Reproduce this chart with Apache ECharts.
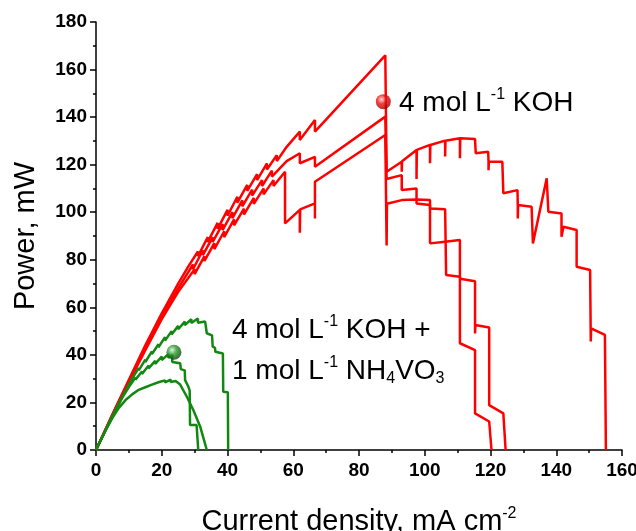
<!DOCTYPE html>
<html>
<head>
<meta charset="utf-8">
<script src="https://cdn.jsdelivr.net/npm/echarts@6/dist/echarts.min.js"></script>
<style>
  html, body { margin: 0; padding: 0; background: #fff; }
  #main { width: 636px; height: 531px; }
</style>
</head>
<body>
<div id="main"></div>
<script>
// 4 mol L-1 KOH runs (three measurements)
var redA = [[0,0],[5,15],[10,29.5],[15,44],[20,57.5],[25,70],[28,77],[31,83.5],[31,81.5],[34,89.5],[34,87.5],[37,95.5],[37,93],[40,101],[40,98.5],[43,106.5],[43,104],[46,111.5],[46,109],[49,116],[49,113.5],[52,120.5],[52,118],[55,124],[55,121.5],[58,127.5],[62,133.9],[62,130.4],[66.6,138.8],[66.6,133.9],[88,166],[88.4,117],[93,121.2],[93,117],[93.1,121.4],[97.5,126.2],[97.5,114],[97.6,126.2],[101.6,128.3],[101.6,120.6],[101.7,128.3],[106.2,130.1],[106.2,123.4],[106.3,130.1],[110.7,131.1],[110.7,122.7],[110.8,131.1],[115.3,130.8],[115.5,124.8],[119.3,125.4],[119.4,121.2],[119.4,117.7],[119.5,121.2],[123.6,121.2],[123.9,108],[128.2,109.3],[128.3,103],[128.3,97.4],[128.4,103],[132.5,102.3],[132.9,86.9],[137.1,114.3],[137.6,100.2],[141.6,99.5],[141.6,89.7],[142.2,93.9],[146.2,92.5],[146.2,77.1],[150.3,75.7],[150.5,45.6],[150.6,51.2],[154.8,48.4],[155.1,0]];
var redB = [[0,0],[5,14.8],[10,29],[15,43],[20,56],[25,68],[29.5,78],[29.5,76],[32.5,84],[32.5,82],[35.5,89.5],[35.5,87.5],[38.5,95],[38.5,92.5],[41.5,100],[41.5,97.5],[44.5,105],[44.5,102.5],[47.5,109.5],[47.5,107],[50.5,113.5],[50.5,111],[53.5,117.5],[53.5,115],[58,121.5],[62,124.8],[62,120.6],[66.6,123.3],[66.6,119.1],[88,140.2],[88.4,114],[93,115.6],[93,109.3],[97.5,110],[97.5,103.7],[101.6,103],[101.6,101.6],[106.2,101.2],[106.5,73.6],[110.7,72.9],[110.8,72],[115.3,71],[115.3,49],[115.4,52.6],[119.6,51.5],[119.6,18.9],[123.9,15.4],[124.6,0]];
var redC = [[0,0],[5,14.6],[10,28.5],[15,42],[20,55],[25,66.5],[30,76],[30,74],[33,81.5],[33,79.5],[36,87],[36,84.5],[39,92],[39,89.5],[42,97],[42,94.5],[45,101.5],[45,99],[48,106],[48,103.5],[51,110],[51,107.5],[54,113.5],[54,111],[57.5,117],[57.5,95.3],[62,101],[62,91.4],[62.1,101.2],[66.6,103.7],[66.6,97.4],[66.6,112.8],[88,132.5],[88.4,86],[88.5,103.6],[93,105.1],[97.5,105.3],[101.6,105.1],[101.6,86.9],[106.2,87.6],[110.7,88.3],[110.7,44.9],[115.3,42],[115.3,15.4],[119.6,12],[120.3,0]];

// 4 mol L-1 KOH + 1 mol L-1 NH4VO3 runs
var greenA = [[0,0],[4,11.5],[8,22.5],[11,30],[13,34.5],[13,33.5],[15,38],[15,37],[17,41.5],[17,40.3],[19,44.5],[19,43.2],[21,47.5],[21,46],[23,50],[23,48.6],[25,52.2],[25,50.8],[27,54],[27,52.5],[29,55],[29,53.4],[31,55.3],[31,53.5],[33.2,54],[33.7,49.1],[35.3,48.2],[35.5,43.5],[36.2,43],[36.3,41.3],[38.6,40.6],[38.7,24.5],[40.1,24.3],[40.2,0]];
var greenB = [[0,0],[4,11.4],[8,22],[10,26.5],[12,30.5],[12,29.6],[14,33],[14,32],[16,35.5],[16,34.3],[18,37.5],[18,36.2],[20,39.3],[20,37.8],[22,40.3],[22,38.8],[23.2,40],[23.2,37],[25.6,36.5],[25.8,34],[27,33.5],[27.1,29.4],[28.1,26.6],[28.5,25],[28.6,10.5],[30.6,10.5],[31.1,0]];
var greenC = [[0,0],[3,8.5],[5,13.5],[7,17.8],[9,21],[11,23.4],[13,25.3],[13,24.6],[15,26.4],[15,25.7],[17,27.5],[17,26.7],[19,28.5],[19,27.7],[21,29.3],[21,28.4],[22.7,29.6],[22.7,28.6],[24.2,29],[25.6,27.5],[27.6,22.5],[29.6,16.8],[31.7,9.8],[33.2,2.5],[33.7,0]];

// legend balls
var redBall = [[87.4,146.5]];
var greenBall = [[23.7,41.1]];

var RED = '#ff0000';
var GREEN = '#128812';

var chart = echarts.init(document.getElementById('main'));

function lineSeries(data, color) {
  return {
    type: 'line',
    data: data,
    symbol: 'none',
    lineStyle: { color: color, width: 2.5 },
    silent: true
  };
}

function ball(data, light, mid, dark) {
  return {
    type: 'scatter',
    data: data,
    symbolSize: 15,
    z: 5,
    itemStyle: {
      color: new echarts.graphic.RadialGradient(0.38, 0.35, 0.65, [
        { offset: 0, color: light },
        { offset: 0.45, color: mid },
        { offset: 1, color: dark }
      ])
    }
  };
}

function rich(color) {
  return {
    a: { fontFamily: 'Liberation Sans', fontSize: 28, lineHeight: 32, color: color },
    sup: { fontFamily: 'Liberation Sans', fontSize: 16, lineHeight: 16, verticalAlign: 'top', color: color },
    sub: { fontFamily: 'Liberation Sans', fontSize: 16, lineHeight: 16, verticalAlign: 'bottom', color: color }
  };
}

var option = {
  animation: false,
  grid: { left: 96, right: 14, top: 22, bottom: 81, containLabel: false, outerBoundsMode: 'none' },
  xAxis: {
    type: 'value',
    min: 0, max: 160, interval: 20,
    name: '{a|Current density, mA cm}{sup|-2}',
    nameLocation: 'middle',
    nameGap: 56,
    nameTextStyle: {
      rich: {
        a: { fontFamily: 'Liberation Sans', fontSize: 29, lineHeight: 32, color: '#000' },
        sup: { fontFamily: 'Liberation Sans', fontSize: 16, lineHeight: 16, verticalAlign: 'top', color: '#000' }
      }
    },
    axisLine: { lineStyle: { color: '#000', width: 1.5 } },
    axisTick: { length: 6, lineStyle: { color: '#000', width: 1.5 } },
    minorTick: { show: true, splitNumber: 2, length: 3, lineStyle: { color: '#000', width: 1.5 } },
    axisLabel: { color: '#000', fontFamily: 'Liberation Sans', fontWeight: 'bold', fontSize: 19, margin: 11 },
    splitLine: { show: false }
  },
  yAxis: {
    type: 'value',
    min: 0, max: 180, interval: 20,
    name: 'Power, mW',
    nameLocation: 'middle',
    nameGap: 56,
    nameTextStyle: { fontFamily: 'Liberation Sans', fontSize: 29, color: '#000' },
    axisLine: { show: true, lineStyle: { color: '#000', width: 1.5 } },
    axisTick: { show: true, length: 6, lineStyle: { color: '#000', width: 1.5 } },
    minorTick: { show: true, splitNumber: 2, length: 3, lineStyle: { color: '#000', width: 1.5 } },
    axisLabel: { color: '#000', fontFamily: 'Liberation Sans', fontWeight: 'bold', fontSize: 19, margin: 9 },
    splitLine: { show: false }
  },
  series: [
    lineSeries(redA, RED),
    lineSeries(redB, RED),
    lineSeries(redC, RED),
    lineSeries(greenA, GREEN),
    lineSeries(greenB, GREEN),
    lineSeries(greenC, GREEN),
    ball(redBall, '#ffd0d0', '#ee1010', '#a00000'),
    ball(greenBall, '#d8f0d8', '#2a9a2a', '#0a4a0a')
  ],
  graphic: [
    {
      type: 'text', left: 399, top: 87,
      style: { text: '{a|4 mol L}{sup|-1}{a| KOH}', rich: rich(RED) }
    },
    {
      type: 'text', left: 232, top: 314,
      style: { text: '{a|4 mol L}{sup|-1}{a| KOH +}', rich: rich(GREEN) }
    },
    {
      type: 'text', left: 232, top: 355,
      style: { text: '{a|1 mol L}{sup|-1}{a| NH}{sub|4}{a|VO}{sub|3}', rich: rich(GREEN) }
    }
  ]
};

chart.setOption(option);
</script>
</body>
</html>
